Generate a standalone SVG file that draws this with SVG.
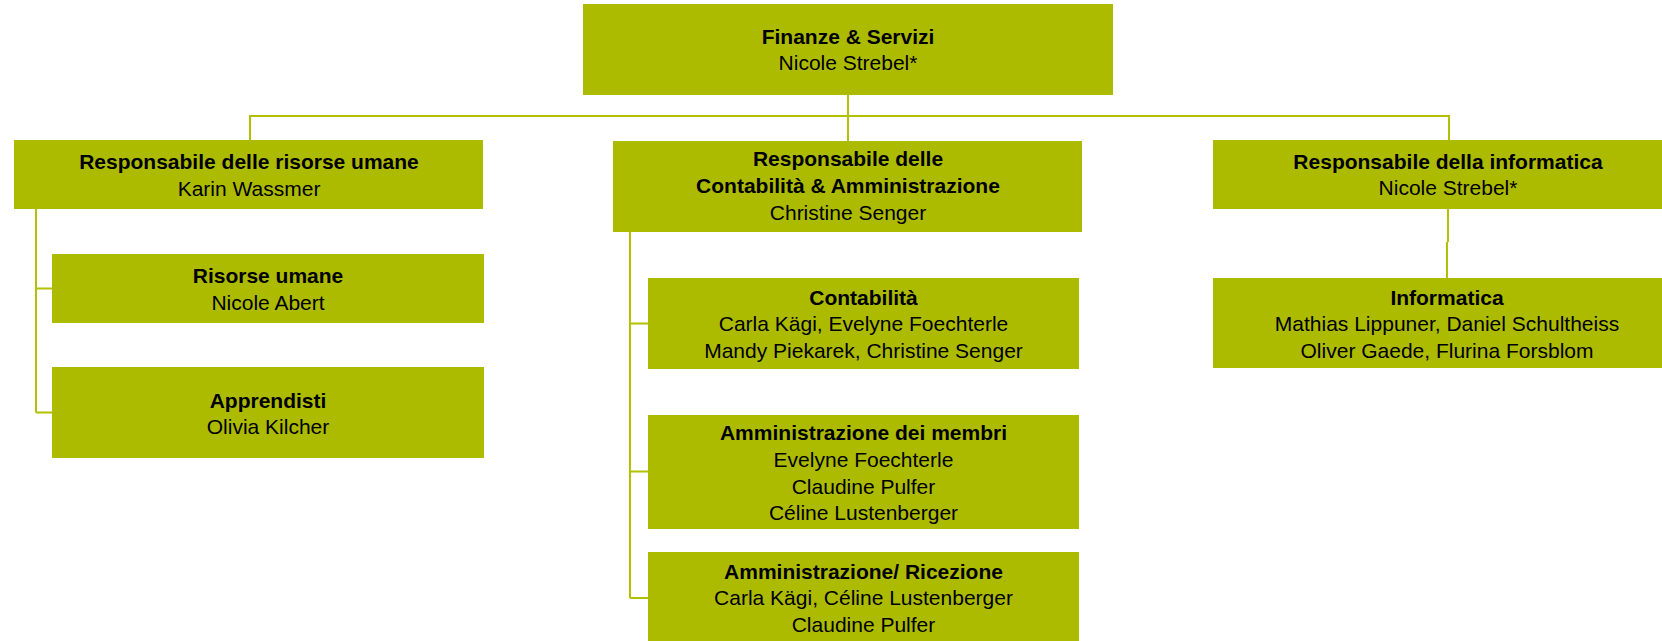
<svg xmlns="http://www.w3.org/2000/svg" width="1662" height="641" viewBox="0 0 1662 641">
<style>
.box{fill:#ADBB00;}
.t{font-family:"Liberation Sans",Arial,sans-serif;font-size:21px;fill:#000;text-anchor:middle;}
.b{font-weight:bold;}
.c{fill:none;stroke:#B3C000;stroke-width:2;}
</style>
<rect width="1662" height="641" fill="#fff"/>
<g id="connectors">
<path class="c" d="M848,95 V141 M250,140 V116 H1449 V140"/>
<path class="c" d="M36,209 V412.5 M36,288.5 H52 M36,412.5 H52"/>
<path class="c" d="M630,232 V598 M630,323.5 H648 M630,471.5 H648 M630,598 H648"/>
<path class="c" d="M1448,209 V242 M1447,242 V278"/>
</g>
<g id="n-finanze">
<rect class="box" x="583" y="4" width="530" height="91"/>
<text class="t b" x="848" y="43.5">Finanze &amp; Servizi</text>
<text class="t" x="848" y="70">Nicole Strebel*</text>
</g>
<g id="n-hr-head">
<rect class="box" x="14" y="140" width="469" height="69"/>
<text class="t b" x="249" y="168.5">Responsabile delle risorse umane</text>
<text class="t" x="249" y="195.5">Karin Wassmer</text>
</g>
<g id="n-acc-head">
<rect class="box" x="613" y="141" width="469" height="91"/>
<text class="t b" x="848" y="165.5">Responsabile delle</text>
<text class="t b" x="848" y="193">Contabilità &amp; Amministrazione</text>
<text class="t" x="848" y="220">Christine Senger</text>
</g>
<g id="n-it-head">
<rect class="box" x="1213" y="140" width="470" height="69"/>
<text class="t b" x="1448" y="168.5">Responsabile della informatica</text>
<text class="t" x="1448" y="195">Nicole Strebel*</text>
</g>
<g id="n-hr">
<rect class="box" x="52" y="254" width="432" height="69"/>
<text class="t b" x="268" y="282.5">Risorse umane</text>
<text class="t" x="268" y="309.5">Nicole Abert</text>
</g>
<g id="n-appr">
<rect class="box" x="52" y="367" width="432" height="91"/>
<text class="t b" x="268" y="407.5">Apprendisti</text>
<text class="t" x="268" y="433.5">Olivia Kilcher</text>
</g>
<g id="n-contab">
<rect class="box" x="648" y="278" width="431" height="91"/>
<text class="t b" x="863.5" y="305">Contabilità</text>
<text class="t" x="863.5" y="331">Carla Kägi, Evelyne Foechterle</text>
<text class="t" x="863.5" y="357.5">Mandy Piekarek, Christine Senger</text>
</g>
<g id="n-membri">
<rect class="box" x="648" y="415" width="431" height="114"/>
<text class="t b" x="863.5" y="439.5">Amministrazione dei membri</text>
<text class="t" x="863.5" y="466.5">Evelyne Foechterle</text>
<text class="t" x="863.5" y="493.5">Claudine Pulfer</text>
<text class="t" x="863.5" y="520">Céline Lustenberger</text>
</g>
<g id="n-ricezione">
<rect class="box" x="648" y="552" width="431" height="91"/>
<text class="t b" x="863.5" y="578.5">Amministrazione/ Ricezione</text>
<text class="t" x="863.5" y="605">Carla Kägi, Céline Lustenberger</text>
<text class="t" x="863.5" y="631.5">Claudine Pulfer</text>
</g>
<g id="n-it">
<rect class="box" x="1213" y="278" width="470" height="90"/>
<text class="t b" x="1447" y="305">Informatica</text>
<text class="t" x="1447" y="331">Mathias Lippuner, Daniel Schultheiss</text>
<text class="t" x="1447" y="357.5">Oliver Gaede, Flurina Forsblom</text>
</g>
</svg>
